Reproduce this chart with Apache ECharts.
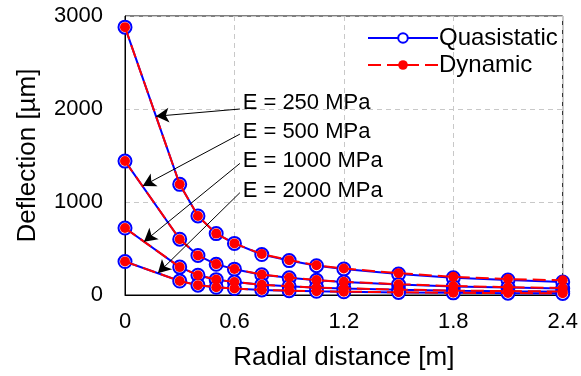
<!DOCTYPE html>
<html><head><meta charset="utf-8">
<script src="https://cdn.jsdelivr.net/npm/echarts@6/dist/echarts.min.js"></script>
<style>html,body{margin:0;padding:0;background:#fff}#c{width:581px;height:376px}</style>
</head><body><div id="c"></div>
<script>
const radial = [0, 0.3, 0.4, 0.5, 0.6, 0.75, 0.9, 1.05, 1.2, 1.5, 1.8, 2.1, 2.4];
const moduli = ['250', '500', '1000', '2000'];
const quasi250  = [2880, 1190, 850, 660, 555, 435, 370, 315, 280, 225, 185, 160, 140];
const quasi500  = [1440, 600, 425, 330, 278, 218, 185, 158, 140, 112, 92, 80, 70];
const quasi1000 = [720, 300, 213, 165, 139, 109, 93, 79, 70, 56, 46, 40, 35];
const quasi2000 = [360, 150, 106, 83, 70, 55, 46, 40, 35, 28, 23, 20, 17];
const dyn250  = [2880, 1190, 850, 660, 555, 440, 375, 320, 285, 235, 195, 172, 158];
const dyn500  = [1440, 600, 425, 332, 280, 220, 188, 160, 143, 116, 96, 84, 75];
const dyn1000 = [720, 300, 213, 166, 140, 110, 94, 80, 72, 58, 48, 42, 37];
const dyn2000 = [360, 150, 106, 83, 70, 55, 47, 41, 36, 29, 24, 21, 18];
const xTicks = [0, 0.6, 1.2, 1.8, 2.4];
const yTicks = [0, 1000, 2000, 3000];
// annotation: label anchor (x,y) and arrow start/tip (x,y) in data units
const labelX = [0.645, 0.645, 0.645, 0.645];
const labelY = [2064, 1751, 1438, 1124];
const startX = [0.63, 0.63, 0.63, 0.63];
const startY = [2000, 1730, 1415, 1100];
const tipX = [0.17, 0.097, 0.104, 0.18];
const tipY = [1922, 1172, 573, 234];

const quasi = [quasi250, quasi500, quasi1000, quasi2000];
const dyn = [dyn250, dyn500, dyn1000, dyn2000];
const FONT = '"Liberation Sans", Arial, sans-serif';
const pair = (arr) => radial.map((x, i) => [x, arr[i]]);

const series = [];
quasi.forEach((arr) => series.push({
  name: 'Quasistatic', type: 'line', data: pair(arr), z: 2,
  symbol: 'circle', symbolSize: 13, showAllSymbol: true,
  lineStyle: { color: '#0000ff', width: 2 },
  itemStyle: { color: '#ffffff', borderColor: '#0000ff', borderWidth: 2 },
  emphasis: { disabled: true }, animation: false
}));
dyn.forEach((arr) => series.push({
  name: 'Dynamic', type: 'line', data: pair(arr), z: 3,
  symbol: 'circle', symbolSize: 10, showAllSymbol: true,
  lineStyle: { color: '#ff0000', width: 2, type: [13, 6] },
  itemStyle: { color: '#ff0000', borderWidth: 0 },
  emphasis: { disabled: true }, animation: false
}));
series.push({
  name: 'arrows', type: 'line', data: [], z: 4, animation: false,
  markLine: {
    silent: true, animation: false,
    symbol: ['none', 'arrow'], symbolSize: [11, 13],
    lineStyle: { color: '#000', width: 1, type: 'solid' },
    label: { show: false },
    data: moduli.map((m, i) => [{ coord: [startX[i], startY[i]] }, { coord: [tipX[i], tipY[i]] }])
  }
});
series.push({
  name: 'labels', type: 'scatter', z: 5, symbolSize: 0, animation: false, silent: true,
  itemStyle: { opacity: 1 },
  data: moduli.map((m, i) => ({ value: [labelX[i], labelY[i]], name: 'E = ' + m + ' MPa' })),
  label: { show: true, position: 'right', distance: 0, formatter: (p) => p.name,
    color: '#000000', opacity: 1, textBorderWidth: 0, fontSize: 22, fontFamily: FONT }
});

const chart = echarts.init(document.getElementById('c'), null, { renderer: 'canvas' });
chart.setOption({
  animation: false,
  textStyle: { fontFamily: FONT, color: '#000' },
  grid: { left: 125, right: 16, top: 16, bottom: 81, show: true, borderColor: '#000', borderWidth: 1, backgroundColor: 'transparent' },
  legend: {
    data: ['Quasistatic', 'Dynamic'], orient: 'vertical', left: 362, top: 21,
    itemWidth: 70, itemHeight: 12, itemGap: 3,
    textStyle: { fontSize: 24, fontFamily: FONT, color: '#000', padding: [0, 0, 0, -4] },
    selectedMode: false
  },
  xAxis: {
    type: 'value', min: 0, max: 2.4, interval: 0.6,
    name: 'Radial distance [m]', nameLocation: 'middle', nameGap: 50,
    nameTextStyle: { fontSize: 26, fontFamily: FONT, color: '#000' },
    axisLine: { show: true, lineStyle: { color: '#000', width: 1 } },
    axisTick: { show: false },
    axisLabel: { fontSize: 22, color: '#000', margin: 16, fontFamily: FONT,
      formatter: (v) => (xTicks.includes(+v.toFixed(1)) ? String(+v.toFixed(1)) : '') },
    splitLine: { show: true, lineStyle: { color: '#c8c8c8', type: [5, 4], width: 1 } }
  },
  yAxis: {
    type: 'value', min: 0, max: 3000, interval: 1000,
    name: 'Deflection [µm]', nameLocation: 'middle', nameGap: 84,
    nameTextStyle: { fontSize: 26, fontFamily: FONT, color: '#000' },
    axisLine: { show: true, lineStyle: { color: '#000', width: 1 } },
    axisTick: { show: false },
    axisLabel: { fontSize: 22, color: '#000', margin: 22, fontFamily: FONT,
      formatter: (v) => (yTicks.includes(v) ? String(v) : '') },
    splitLine: { show: true, lineStyle: { color: '#c8c8c8', type: [5, 4], width: 1 } }
  },
  series: series
});
</script>
</body></html>
